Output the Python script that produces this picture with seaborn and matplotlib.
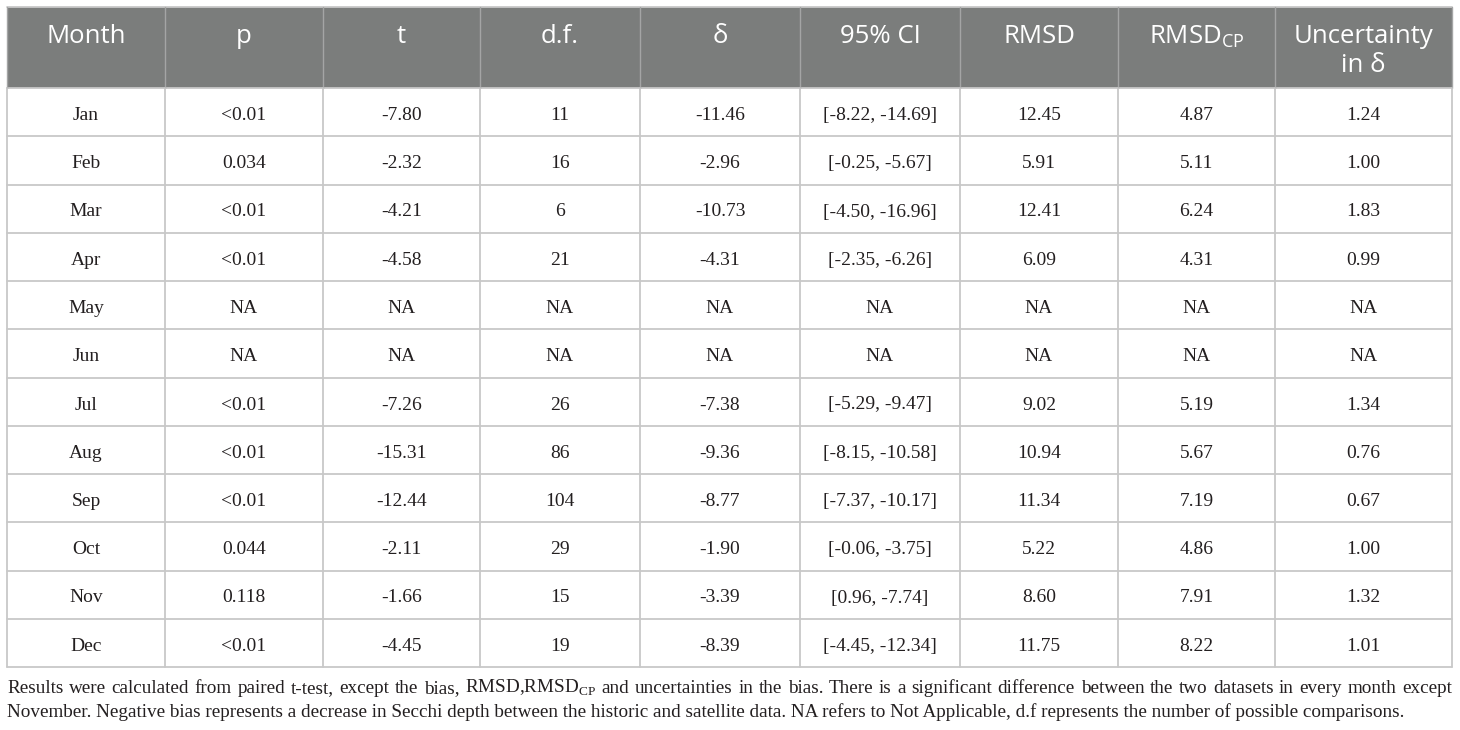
import matplotlib
matplotlib.use('Agg')
import matplotlib.pyplot as plt
from matplotlib.patches import Rectangle
import seaborn as sns

# Table content
headers = ['Month', 'p', 't', 'd.f.', 'δ', '95% CI', 'RMSD',
           r'RMSD$_{\mathregular{CP}}$', 'Uncertainty\nin δ']
months = ['Jan', 'Feb', 'Mar', 'Apr', 'May', 'Jun',
          'Jul', 'Aug', 'Sep', 'Oct', 'Nov', 'Dec']
p_values = ['<0.01', '0.034', '<0.01', '<0.01', 'NA', 'NA',
            '<0.01', '<0.01', '<0.01', '0.044', '0.118', '<0.01']
t_values = ['-7.80', '-2.32', '-4.21', '-4.58', 'NA', 'NA',
            '-7.26', '-15.31', '-12.44', '-2.11', '-1.66', '-4.45']
df_values = ['11', '16', '6', '21', 'NA', 'NA',
             '26', '86', '104', '29', '15', '19']
bias_values = ['-11.46', '-2.96', '-10.73', '-4.31', 'NA', 'NA',
               '-7.38', '-9.36', '-8.77', '-1.90', '-3.39', '-8.39']
ci_values = ['[-8.22, -14.69]', '[-0.25, -5.67]', '[-4.50, -16.96]', '[-2.35, -6.26]', 'NA', 'NA',
             '[-5.29, -9.47]', '[-8.15, -10.58]', '[-7.37, -10.17]', '[-0.06, -3.75]',
             '[0.96, -7.74]', '[-4.45, -12.34]']
rmsd_values = ['12.45', '5.91', '12.41', '6.09', 'NA', 'NA',
               '9.02', '10.94', '11.34', '5.22', '8.60', '11.75']
rmsd_cp_values = ['4.87', '5.11', '6.24', '4.31', 'NA', 'NA',
                  '5.19', '5.67', '7.19', '4.86', '7.91', '8.22']
uncertainty_values = ['1.24', '1.00', '1.83', '0.99', 'NA', 'NA',
                      '1.34', '0.76', '0.67', '1.00', '1.32', '1.01']

footnote_line1 = (r'Results were calculated from paired t-test, except the bias, '
                  r'RMSD,RMSD$_{\mathregular{CP}}$ and uncertainties in the bias. There is a '
                  r'significant difference between the two datasets in every month except')
footnote_line2 = ('November. Negative bias represents a decrease in Secchi depth between the '
                  'historic and satellite data. NA refers to Not Applicable, d.f represents '
                  'the number of possible comparisons.')

columns = [months, p_values, t_values, df_values, bias_values, ci_values,
           rmsd_values, rmsd_cp_values, uncertainty_values]

# Layout (pixels)
col_edges = [7, 165, 323, 480, 640, 800, 960, 1118, 1275, 1452]
table_top = 7
header_bottom = 88
table_bottom = 667
n_rows = len(months)
row_h = (table_bottom - header_bottom) / n_rows

header_color = '#7b7d7c'
line_color = '#c8c8c8'
text_color = '#231f20'
serif = ['Liberation Serif', 'DejaVu Serif']
sans = ['Open Sans', 'DejaVu Sans']

sns.set_theme(style='white')
plt.rcParams['font.family'] = serif

fig = plt.figure(figsize=(14.6, 7.3), dpi=100)
ax = fig.add_axes([0, 0, 1, 1])
ax.set_xlim(0, 1460)
ax.set_ylim(730, 0)
ax.axis('off')

# Header background
ax.add_patch(Rectangle((col_edges[0], table_top), col_edges[-1] - col_edges[0],
                       header_bottom - table_top, facecolor=header_color,
                       edgecolor='none', zorder=1))

# Grid lines
ax.plot([col_edges[0], col_edges[-1]], [table_top, table_top], color=line_color, lw=1.3, zorder=2)
for i in range(n_rows + 1):
    y = header_bottom + i * row_h
    ax.plot([col_edges[0], col_edges[-1]], [y, y], color=line_color, lw=1.3, zorder=2)
for x in col_edges:
    ax.plot([x, x], [table_top, header_bottom], color='#a4a5a5', lw=1.0, zorder=2)
    ax.plot([x, x], [header_bottom, table_bottom], color=line_color, lw=1.3, zorder=2)

# Header text
for j, label in enumerate(headers):
    xc = (col_edges[j] + col_edges[j + 1]) / 2
    for k, part in enumerate(label.split('\n')):
        ax.text(xc, 43 + k * 29, part, ha='center', va='baseline', color='white',
                fontsize=18.5, family=sans, zorder=3)

# Body text
for j, col in enumerate(columns):
    xc = (col_edges[j] + col_edges[j + 1]) / 2
    for i, val in enumerate(col):
        y = header_bottom + i * row_h + 32
        ax.text(xc, y, val, ha='center', va='baseline', color=text_color,
                fontsize=14, family=serif, zorder=3)

# Footnote, first line justified
fig.canvas.draw()
renderer = fig.canvas.get_renderer()
words = footnote_line1.split(' ')
word_texts = []
widths = []
for w in words:
    t = ax.text(0, 693, w, ha='left', va='baseline', color=text_color,
                fontsize=13.8, family=serif)
    bb = t.get_window_extent(renderer=renderer)
    word_texts.append(t)
    widths.append(bb.width)
total = col_edges[-1] - col_edges[0]
gap = (total - sum(widths)) / (len(words) - 1)
x = col_edges[0]
for t, wdt in zip(word_texts, widths):
    t.set_x(x)
    x += wdt + gap

ax.text(col_edges[0], 717, footnote_line2, ha='left', va='baseline', color=text_color,
        fontsize=13.8, family=serif)

plt.savefig('out.png', dpi=100)
